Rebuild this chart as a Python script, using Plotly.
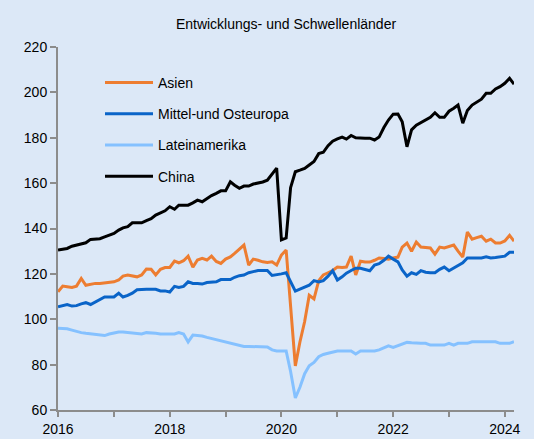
import pandas as pd
import plotly.graph_objects as go

title = "Entwicklungs- und Schwellenländer"
months = pd.date_range("2016-01-01", "2024-03-01", freq="MS")

asien = [
    112.1, 114.6, 114.3, 114.0, 114.6, 118.0, 115.0, 115.5, 115.8, 115.8, 116.0, 116.1,
    116.5, 117.3, 119.0, 119.5, 119.0, 118.7, 119.5, 122.1, 122.0, 119.5, 122.0, 122.8,
    122.8, 125.6, 124.9, 125.8, 127.8, 123.0, 126.1, 126.8, 126.1, 127.8, 125.5, 124.6,
    126.5, 127.5, 129.0, 131.0, 132.7, 123.9, 126.5, 126.0, 125.3, 125.0, 125.3, 123.9,
    128.3, 130.5, 105.0, 79.4, 90.0, 99.0, 110.6, 109.0, 117.0, 119.5, 120.5, 121.5,
    123.0, 122.8, 123.0, 127.8, 119.5, 125.6, 125.2, 125.2, 126.0, 127.0, 126.8, 126.5,
    127.0, 127.4, 131.8, 133.6, 130.0, 134.0, 131.8, 131.6, 131.4, 128.7, 131.8, 131.4,
    132.0, 132.7, 130.0, 127.4, 138.4, 135.3, 136.0, 136.6, 134.4, 135.3, 133.6, 133.6,
    134.5, 137.0, 134.4,
]
moe = [
    105.5, 106.0, 106.5, 105.8, 106.0, 106.8, 107.3, 106.5, 107.5, 108.5, 109.8, 109.8,
    109.8, 111.5, 109.8, 110.5, 111.5, 113.0, 113.2, 113.2, 113.2, 113.2, 112.5, 112.5,
    112.0, 114.5, 114.0, 114.5, 116.5, 115.8, 115.8, 115.5, 116.2, 116.5, 116.5, 117.5,
    117.5, 117.5, 118.5, 119.2, 119.5, 120.5, 121.0, 121.5, 121.5, 121.5, 119.3, 119.5,
    120.0, 120.5, 116.5, 112.4, 113.3, 114.0, 115.0, 117.0, 116.4, 117.0, 119.0, 121.4,
    117.3, 118.7, 120.3, 121.5, 122.5, 122.5, 122.0, 121.4, 123.9, 124.5, 126.0, 127.8,
    126.5, 125.3, 121.7, 119.0, 120.5, 119.8, 121.4, 120.7, 120.5, 120.5, 122.0, 123.0,
    121.4, 122.5, 123.5, 124.9, 127.0, 127.0, 127.0, 127.0, 127.5, 127.0, 127.2, 127.5,
    127.8, 129.5, 129.5,
]
latam = [
    96.0, 96.0, 95.8, 95.2, 94.6, 94.1, 93.8, 93.5, 93.5, 93.2, 92.8, 93.5,
    94.1, 94.4, 94.4, 94.1, 93.8, 93.5, 93.5, 94.1, 94.1, 93.8, 93.5, 93.5,
    93.5, 93.5, 94.1, 93.5, 90.0, 93.0, 92.8, 92.6, 92.0, 91.5, 91.0, 90.5,
    90.0, 89.5, 89.0, 88.3, 88.0, 88.0, 88.0, 88.0, 88.0, 87.8, 86.5, 86.0,
    86.0, 86.0, 77.0, 65.3, 70.0, 76.0, 79.5, 81.0, 83.5, 84.5, 85.0, 85.5,
    86.0, 86.0, 86.0, 86.0, 84.7, 86.0, 86.0, 86.0, 86.0, 86.5, 87.5, 88.3,
    87.6, 88.3, 89.0, 89.8, 89.6, 89.4, 89.4, 89.4, 88.6, 88.6, 88.6, 88.6,
    89.4, 88.6, 89.4, 89.4, 89.4, 90.1, 90.1, 90.1, 90.1, 90.1, 90.1, 89.4,
    89.4, 89.4, 90.1,
]
china = [
    130.5, 130.8, 131.2, 132.2, 132.7, 133.4, 133.7, 135.2, 135.2, 135.5, 136.3, 137.0,
    137.8, 139.3, 140.3, 140.8, 142.5, 142.5, 142.5, 143.5, 144.3, 145.9, 147.0, 147.8,
    149.6, 148.5, 150.3, 150.3, 150.3, 151.3, 152.5, 151.8, 153.3, 154.5, 155.5, 156.6,
    156.6, 160.6, 159.1, 157.7, 158.7, 158.7, 159.6, 160.0, 160.5, 161.3, 164.0, 166.6,
    135.0, 135.8, 158.0, 165.0, 165.7, 166.5, 168.0, 169.5, 173.0, 173.6, 176.5, 178.5,
    179.5, 180.3, 179.4, 181.0, 180.0, 179.8, 179.8, 179.8, 179.0, 180.3, 184.5, 187.8,
    190.4, 190.5, 187.0, 176.0, 183.5, 185.5, 186.6, 187.5, 189.0, 191.0, 189.0, 189.0,
    191.7, 193.0, 194.4, 186.4, 192.0, 194.4, 195.5, 197.0, 199.6, 199.6, 201.5, 202.5,
    204.0, 206.2, 203.6,
]

series_names = ["Asien", "Mittel-und Osteuropa", "Lateinamerika", "China"]
series_values = [asien, moe, latam, china]
series_colors = ["#ED7D31", "#0A64C8", "#85C1FF", "#000000"]

y_ticks = [60, 80, 100, 120, 140, 160, 180, 200, 220]

bg = "#DCE8F7"
axis_col = "#8C8C8C"
font_family = "Liberation Sans, Arial, sans-serif"

fig = go.Figure()
for i, (name, vals, col) in enumerate(zip(series_names, series_values, series_colors)):
    fig.add_trace(go.Scatter(
        x=months, y=vals, mode="lines", name=name,
        line=dict(color=col, width=3),
        legendgroup=f"g{i}",
    ))

fig.update_layout(
    width=534, height=439,
    paper_bgcolor=bg, plot_bgcolor=bg,
    margin=dict(l=58, r=20, t=47, b=29, autoexpand=False),
    font=dict(family=font_family, size=14, color="#000000"),
    title=dict(text=title, x=0.5, xref="paper", xanchor="center",
               y=1 - 24 / 439, yref="container", yanchor="middle",
               font=dict(size=14, color="#000000")),
    showlegend=True,
    legend=dict(x=(100 - 58) / (514 - 58), y=1 - (67 - 47) / 363,
                xanchor="left", yanchor="top",
                bgcolor="rgba(0,0,0,0)", borderwidth=0,
                font=dict(size=14, color="#000000"),
                itemwidth=48, tracegroupgap=10),
)

fig.update_xaxes(
    type="date", automargin=False,
    range=["2016-01-01", "2024-03-01"],
    tick0="2016-01-01", dtick="M24", tickformat="%Y",
    ticks="outside", ticklen=5, tickwidth=1.5, tickcolor=axis_col,
    showline=True, linecolor=axis_col, linewidth=2,
    showgrid=False, zeroline=False,
    minor=dict(dtick="M12", tick0="2016-01-01", ticks="outside", ticklen=5,
               tickwidth=1.5, tickcolor=axis_col, showgrid=False),
    tickfont=dict(size=14, color="#000000"),
)
fig.update_yaxes(
    automargin=False,
    range=[60, 220], tickvals=y_ticks,
    ticks="outside", ticklen=6, tickwidth=1.5, tickcolor=axis_col,
    showline=True, linecolor=axis_col, linewidth=2,
    showgrid=False, zeroline=False,
    tickfont=dict(size=14, color="#000000"),
)

fig.write_html(
    "out.html",
    config={"displayModeBar": False},
    post_script="document.body.style.margin='0';document.body.style.background='#DCE8F7';",
)
